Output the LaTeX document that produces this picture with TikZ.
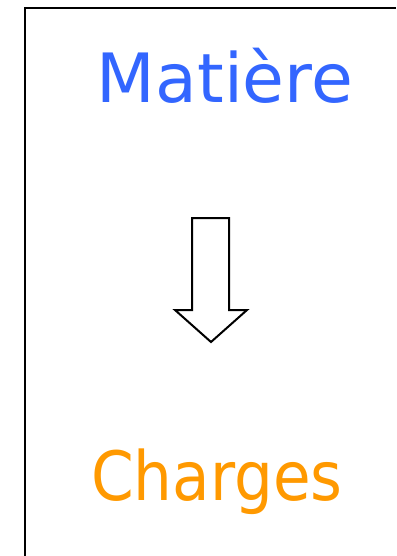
\documentclass[tikz,border=0pt]{standalone}
\usepackage{fontspec}
\setmainfont{DejaVu Sans}
\definecolor{matblue}{HTML}{3366FF}
\definecolor{chorange}{HTML}{FF9900}
\begin{document}
\begin{tikzpicture}[x=1pt,y=-1pt,
  bigtext/.style={inner sep=0pt, anchor=base, font=\fontsize{68}{68}\selectfont},
  frameline/.style={line width=2.5pt, black},
  bigarrow/.style={draw=black, line width=2pt, fill=white, line join=miter}]
\useasboundingbox (0,0) rectangle (396,556);
\draw[frameline] (25,556) -- (25,8) -- (396,8);
\node[bigtext, text=matblue] (mat) at (225,103) {Matière};
\node[bigtext, text=chorange, xscale=0.9] (ch) at (217,500) {Charges};
\draw[bigarrow] (192,218) -- (229,218) -- (229,310) -- (247,310) -- (211,342) -- (175,310) -- (192,310) -- cycle;
\end{tikzpicture}
\end{document}
